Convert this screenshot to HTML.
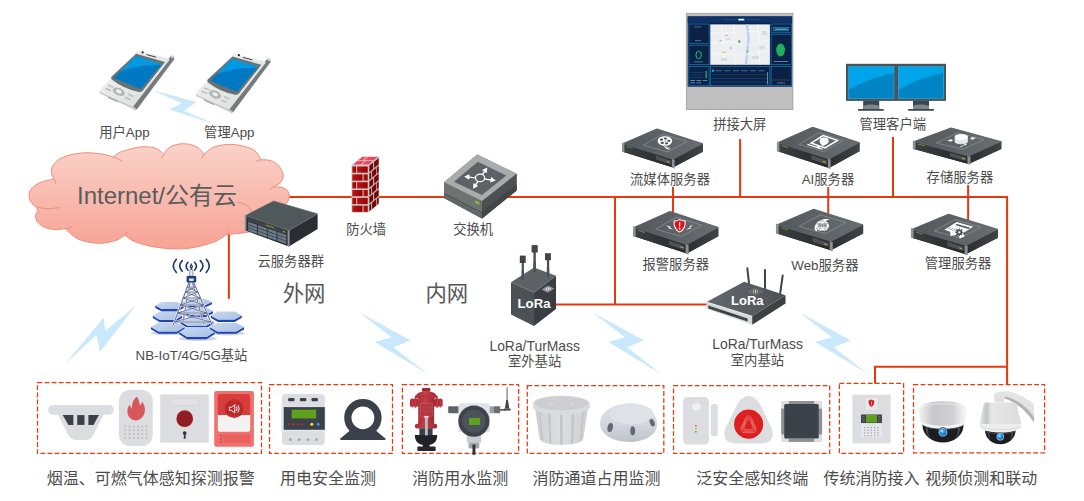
<!DOCTYPE html>
<html lang="zh-CN">
<head>
<meta charset="utf-8">
<title>智慧消防物联网系统架构图</title>
<style>
html,body{margin:0;padding:0;background:#fff;}
body{width:1084px;height:501px;overflow:hidden;font-family:"Liberation Sans",sans-serif;}
svg{display:block;position:absolute;left:0;top:0;}
#stage{position:relative;width:1084px;height:501px;overflow:hidden;background:#fff;}
#textlayer span{position:absolute;display:block;white-space:nowrap;text-align:center;color:transparent;line-height:1;overflow:hidden;}
#textlayer span.b{font-weight:bold;}
svg text{font-family:"Liberation Sans","Noto Sans CJK SC",sans-serif;}
</style>
</head>
<body>
<div id="stage">
<svg width="1084" height="501" viewBox="0 0 1084 501" role="img" aria-label="智慧消防物联网系统架构图">
<defs>
<linearGradient id="cloudg" x1="0" y1="0" x2="0" y2="1"><stop offset="0" stop-color="#fad2c9"/><stop offset="1" stop-color="#f7a394"/></linearGradient>
<linearGradient id="srvT" x1="0" y1="0" x2="1" y2="0"><stop offset="0" stop-color="#53585c"/><stop offset="1" stop-color="#686d71"/></linearGradient>
<linearGradient id="srvL" x1="0" y1="0" x2="1" y2="0"><stop offset="0" stop-color="#3b4043"/><stop offset="1" stop-color="#25282a"/></linearGradient>
<linearGradient id="srvR" x1="0" y1="0" x2="1" y2="0"><stop offset="0" stop-color="#2b2e30"/><stop offset="1" stop-color="#3f4447"/></linearGradient>
<g id="srv">
<polygon points="0,14.7 34.1,0 80,14.7 80,22.9 50.1,38.8 0,22.9" fill="#3a3e41"/>
<polygon points="0,14.7 50.1,30.6 50.1,38.8 0,22.9" fill="url(#srvL)"/>
<polygon points="50.1,30.6 80,14.7 80,22.9 50.1,38.8" fill="url(#srvR)"/>
<polygon points="0,14.7 34.1,0 80,14.7 50.1,30.6" fill="url(#srvT)"/>
<polygon points="0,14.7 34.1,0 80,14.7 50.1,30.6" fill="none" stroke="#6a6f73" stroke-width=".5" stroke-linejoin="round"/>
<polygon points="20.6,16.4 40.1,5.4 64.1,12.7 45.1,23.1" fill="none" stroke="#90959a" stroke-width=".65" stroke-linejoin="round"/>
<polygon points="-0.9,13.6 1.6,14.6 1.6,23.8 -0.9,22.8" fill="#8b9196"/>
<polygon points="49,30.2 51.8,30.9 51.8,39.8 49,39" fill="#8b9196"/>
<polygon points="33,26.8 48,31.6 48,35.6 33,30.8" fill="#4c5254"/>
<polygon points="4,17.2 10,19.1 10,19.8 4,17.9" fill="#8fa02c"/>
<polygon points="44,32.2 46.6,33 46.6,34.1 44,33.3" fill="#d8a51e"/>
</g>
<linearGradient id="phB" x1="0" y1="0" x2="1" y2="1"><stop offset="0" stop-color="#f4f5f5"/><stop offset="1" stop-color="#d9dbdb"/></linearGradient>
<g id="phone">
<!-- side / thickness -->
<path d="M168.9 58.4 L171.4 55.4 L174.3 57.3 L174.1 59.4 L137 109.2 Q135.8 110 134.2 109.4 L132.2 106.4Z" fill="#757b7c"/>
<path d="M99.5 91.3 L99.7 93.2 L134.2 109.4 Q135.8 110 137 109.2 L133 106.2Z" fill="#c4c7c7"/>
<!-- antenna nub -->
<path d="M170.2 56.8l1.5-1.8 2.6 1.6-1.2 2.2z" fill="#cfd1d1"/>
<!-- top face -->
<path d="M138.6 50.7 L168.6 58.6 Q169.8 59.2 169 60.4 L133.8 105.8 Q132.8 106.8 131.4 106.2 L100.2 92 Q99 91.2 99.9 90 L136.6 51.2 Q137.4 50.4 138.6 50.7Z" fill="url(#phB)"/>
<!-- dark bezel -->
<path d="M136.3 53.7 L165 62 L142.4 91 Q140.8 92.4 138 91.8 Q123 88.6 111.8 79.6 Q110.2 78 111.6 76.4Z" fill="#6b7172"/>
<!-- screen -->
<path d="M135.6 55.9 L161.9 63.9 L140.5 89 L114 77.9Z" fill="#0099e2"/>
<path d="M120.2 71.4 C134 66.2 148 64 160.8 65.2 L140.5 89 L114 77.9Z" fill="#0079c2"/>
<!-- camera + earpiece -->
<circle cx="142.6" cy="52.4" r="1.1" fill="#222"/>
<path d="M146.6 54.6l9.6 2.6" stroke="#3d4243" stroke-width="1" fill="none"/>
<!-- keypad -->
<ellipse cx="118.8" cy="91.7" rx="6.4" ry="3.7" transform="rotate(24 118.8 91.7)" fill="#b3b6b6"/>
<ellipse cx="118.8" cy="91.5" rx="2.9" ry="1.8" transform="rotate(24 118.8 91.5)" fill="#eeefef"/>
<g stroke="#bfc2c2" stroke-width="1.7" stroke-linecap="round" fill="none">
<path d="M108.6 85.4l4 1.6"/><path d="M106 88.6l4.2 1.8"/><path d="M128.4 94.2l4.2 1.8"/><path d="M125.6 97.6l4.2 1.8"/>
</g>
<path d="M108 97.4l9.6 4.4" stroke="#8e9393" stroke-width="1" fill="none"/>
</g><linearGradient id="fwF" x1="0" y1="0" x2="1" y2="0"><stop offset="0" stop-color="#c21414"/><stop offset="1" stop-color="#960000"/></linearGradient><linearGradient id="liT" x1="0" y1="0" x2="1" y2="0"><stop offset="0" stop-color="#63686c"/><stop offset="1" stop-color="#4d5256"/></linearGradient><linearGradient id="hexg" x1="0" y1="0" x2="1" y2="1"><stop offset="0" stop-color="#c9d8ef"/><stop offset="1" stop-color="#a9c0e4"/></linearGradient><pattern id="mesh" x="217.8" y="415.1" width="1.75" height="1.75" patternUnits="userSpaceOnUse"><rect x=".5" y=".5" width=".85" height=".85" fill="#c6c6cb"/></pattern><linearGradient id="hyd" x1="0" y1="0" x2="1" y2="0"><stop offset="0" stop-color="#a92d37"/><stop offset=".45" stop-color="#c53f49"/><stop offset="1" stop-color="#9c2832"/></linearGradient><linearGradient id="bkt" x1="0" y1="0" x2="1" y2="0"><stop offset="0" stop-color="#cfd0d4"/><stop offset=".5" stop-color="#dddee1"/><stop offset="1" stop-color="#cfd0d4"/></linearGradient><linearGradient id="dome" x1="0" y1="0" x2="0" y2="1"><stop offset="0" stop-color="#dfe2e8"/><stop offset=".55" stop-color="#d3d6dc"/><stop offset="1" stop-color="#bfc3ca"/></linearGradient><linearGradient id="camH" x1="0" y1="0" x2="1" y2="0"><stop offset="0" stop-color="#f4f4f4"/><stop offset=".12" stop-color="#e2e3e5"/><stop offset=".3" stop-color="#c6c8cc"/><stop offset=".7" stop-color="#cfd1d4"/><stop offset=".88" stop-color="#ececec"/><stop offset="1" stop-color="#fafafa"/></linearGradient><linearGradient id="camP" x1="0" y1="0" x2="1" y2="0"><stop offset="0" stop-color="#e9e9e9"/><stop offset=".18" stop-color="#c2c4c8"/><stop offset=".28" stop-color="#e6e6e7"/><stop offset="1" stop-color="#dcdcdd"/></linearGradient><radialGradient id="lens" cx=".4" cy=".35" r=".7"><stop offset="0" stop-color="#6cc4f6"/><stop offset=".6" stop-color="#1488dc"/><stop offset="1" stop-color="#0b5fa8"/></radialGradient>
</defs>
<g id="bolts" fill="#c9e8fb"><polygon points="135.9,305.5 105.2,330.9 103.7,317.5 64.7,364.2 96.6,334.7 99.9,351.9"/><polygon points="152.6,89.9 196.5,102 183.9,110.7 215.7,124.5 169.6,109.4 181.7,103.3"/><polygon points="359.0,312.2 410.6,340.5 393.4,347.2 428.6,374.6 374.7,342.1 391.6,337.2"/><polygon points="592.4,312.2 644.0,340.5 626.8,347.2 662.0,374.6 608.1,342.1 625.0,337.2"/><polygon points="799.2,312.2 850.8,340.5 833.6,347.2 868.8,374.6 814.9,342.1 831.8,337.2"/></g>
<g id="links" fill="none" stroke="#e8380d" stroke-width="2"><path d="M270 197H1007.1V384.6"/><path d="M228.9 234V298.8"/><path d="M615 197V304.5"/><path d="M556 304.5H707"/><path d="M740.1 139.1V197"/><path d="M673 187V214"/><path d="M828.2 187.2V215"/><path d="M893 137V197"/><path d="M968.1 185V221"/><path d="M1007.1 366.8H875V383.4"/></g>
<g id="cloud" stroke="#ee8c78" stroke-width="1" stroke-linejoin="round" stroke-linecap="round"><path d="M53.7 179.0C53.3 177.5 50.7 173.1 51.3 170.0C51.9 166.9 54.4 163.0 57.5 160.5C60.6 158.0 65.2 156.3 70.0 155.0C74.8 153.7 80.5 152.9 86.0 152.8C91.5 152.7 98.4 153.5 103.0 154.2C107.6 154.9 111.7 156.7 113.4 157.2C114.2 156.5 115.9 154.3 118.0 153.2C120.1 152.0 122.3 151.3 126.0 150.3C129.7 149.3 135.7 147.5 140.0 147.0C144.3 146.5 148.8 146.8 152.0 147.3C155.2 147.8 157.1 148.8 159.0 150.0C160.9 151.2 162.9 153.8 163.7 154.5C164.8 153.2 166.9 148.8 170.0 147.0C173.1 145.2 178.2 143.8 182.5 143.7C186.8 143.6 192.4 144.8 196.0 146.5C199.6 148.2 202.9 152.8 204.3 154.1C205.9 152.9 209.6 148.6 214.0 147.0C218.4 145.4 225.2 144.4 230.7 144.4C236.2 144.4 242.8 146.0 247.0 147.2C251.2 148.4 253.7 149.7 256.0 151.8C258.3 153.9 260.2 158.5 261.0 159.8C262.5 159.9 267.1 159.6 270.0 160.5C272.9 161.4 276.4 163.1 278.6 165.5C280.8 167.9 282.8 171.9 283.1 174.7C283.4 177.5 282.3 180.4 280.6 182.5C278.9 184.6 274.3 186.2 273.0 187.0C274.5 187.1 279.5 186.6 282.0 187.3C284.5 188.1 286.8 189.6 288.0 191.5C289.2 193.4 289.5 196.2 289.0 198.5C288.5 200.8 287.0 203.2 285.0 205.0C283.0 206.8 278.3 208.3 277.0 209.0C277.7 210.3 281.8 214.0 281.0 217.0C280.2 220.0 276.3 224.7 272.0 227.0C267.7 229.3 260.3 230.0 255.0 231.0C249.7 232.0 244.7 232.6 240.0 233.2C235.3 233.8 228.9 234.3 226.7 234.5C224.8 235.7 220.3 239.4 215.0 241.5C209.7 243.6 201.7 246.1 195.0 247.3C188.3 248.5 182.2 249.0 175.0 248.9C167.8 248.8 158.8 247.8 152.0 246.5C145.2 245.2 138.5 243.1 134.0 241.2C129.5 239.3 126.3 236.2 124.8 235.2C123.3 236.0 120.0 239.0 116.0 240.3C112.0 241.7 105.7 243.1 100.7 243.3C95.7 243.5 90.3 242.6 86.0 241.6C81.7 240.6 78.5 239.4 75.0 237.2C71.5 235.0 66.8 230.0 65.2 228.6C63.5 228.8 58.3 229.9 54.8 229.6C51.3 229.3 46.9 228.3 44.0 227.0C41.1 225.7 38.6 223.4 37.2 221.5C35.8 219.6 35.6 217.5 35.6 215.7C35.6 213.9 37.5 212.0 37.5 210.5C37.5 209.0 35.9 207.2 35.6 206.6C34.8 205.8 31.8 203.9 30.7 202.0C29.6 200.1 29.0 197.2 29.1 195.0C29.2 192.8 29.4 191.1 31.2 189.0C33.0 186.9 36.2 184.3 40.0 182.6C43.8 180.9 51.4 179.6 53.7 179.0Z" fill="url(#cloudg)"/><path d="M35.6 206.6C37.3 206.9 42.0 208.4 46.0 208.6C50.0 208.8 57.2 207.8 59.4 207.6M65.2 228.6C65.8 228.5 67.8 228.5 69.0 228.2C70.2 227.9 71.7 226.9 72.2 226.6M113.4 157.2C114.1 157.4 116.2 157.9 117.6 158.6C119.0 159.3 120.9 160.8 121.6 161.2M53.7 179.0C54.0 179.3 54.9 180.3 55.2 181.0C55.6 181.7 55.7 183.0 55.8 183.4M124.8 235.2C125.1 235.0 126.0 234.3 126.4 233.8C126.8 233.3 127.1 232.3 127.2 232.0M163.7 154.5C163.5 154.8 162.9 155.4 162.6 156.0C162.2 156.6 161.8 157.7 161.6 158.0M204.3 154.1C204.1 154.4 203.4 155.2 203.0 155.8C202.6 156.5 202.0 157.6 201.8 158.0M261.0 159.8C260.6 159.9 259.2 160.1 258.4 160.4C257.6 160.7 256.4 161.4 256.0 161.6M273.0 187.0C272.7 187.2 271.6 187.7 271.0 188.2C270.4 188.7 269.7 189.7 269.4 190.0M226.7 234.5C226.9 234.2 227.7 233.4 228.0 232.8C228.3 232.2 228.5 231.3 228.6 231.0M238.4 202.6C239.1 202.7 240.9 202.9 242.4 203.4C243.9 203.9 245.9 204.6 247.4 205.8C248.9 207.0 250.4 208.8 251.2 210.6C252.0 212.4 252.3 214.3 252.0 216.6C251.7 218.9 250.5 222.3 249.3 224.6C248.1 226.9 246.3 228.8 244.8 230.2C243.3 231.6 241.1 232.5 240.4 233.0" fill="none"/></g>
<g id="boxes" fill="none" stroke="#e8380d" stroke-width="1.25" stroke-dasharray="4.8 2.3"><rect x="37.5" y="382.5" width="224.0" height="70.89999999999998"/><rect x="269.5" y="384.5" width="123.0" height="68.89999999999998"/><rect x="402.4" y="384.6" width="116.20000000000005" height="68.79999999999995"/><rect x="527.3" y="385.6" width="136.5" height="67.79999999999995"/><rect x="673.5" y="385.6" width="156.20000000000005" height="67.79999999999995"/><rect x="839.4" y="383.4" width="64.20000000000005" height="70.0"/><rect x="913.5" y="384.6" width="131.0999999999999" height="68.19999999999999"/></g>
<g id="servers"><g transform="translate(622.8 128.8) scale(1.0 1.0)"><use href="#srv"/><g transform="translate(42.1 12.2)"><ellipse cx="0" cy="0" rx="7.3" ry="4.8" fill="#fff"/><g fill="#50555a"><ellipse cx="-3.4" cy="-1.3" rx="1.7" ry="1.1"/><ellipse cx="0.6" cy="-2.4" rx="1.7" ry="1.1"/><ellipse cx="3.9" cy="-0.2" rx="1.7" ry="1.1"/><ellipse cx="1.7" cy="2.3" rx="1.7" ry="1.1"/><ellipse cx="-2.6" cy="1.9" rx="1.7" ry="1.1"/><ellipse cx="0.2" cy="0" rx=".7" ry=".5"/></g><path d="M-1.2 4.4 C0 6 1.4 7.2 3.6 7.9" fill="none" stroke="#fff" stroke-width="1"/><ellipse cx="1.5" cy="6.5" rx="1.2" ry=".8" fill="none" stroke="#fff" stroke-width=".6"/><ellipse cx="3.8" cy="7.6" rx="1.2" ry=".8" fill="none" stroke="#fff" stroke-width=".6"/></g></g><g transform="translate(777.8 127.1) scale(1.021 1.052)"><use href="#srv"/><g fill="none" stroke="#fff" stroke-linejoin="miter"><polygon points="32.6,15.2 44.3,8 58.4,12.6 46.2,19.8" stroke-width="1.5"/><path d="M29 16.4L43.8 21.1" stroke-width="1.1"/><path d="M38.6 17.6l-.8 1.9 3.2 1 .6-1.9z" fill="#fff" stroke="none"/></g><ellipse cx="45.4" cy="13.3" rx="4.5" ry="3.3" fill="#fff"/><path d="M41.2 14.6l2.6 3.4 4-1.2z" fill="#fff"/></g><g transform="translate(913.8 127.8) scale(1.094 0.93)"><use href="#srv"/><g transform="translate(43.4 11.7)"><path d="M-6 -2.2v5.4a6 2.9 0 0 0 12 0v-5.4z" fill="#fff"/><ellipse cx="0" cy="-2.2" rx="6" ry="2.9" fill="#fff"/><g fill="none" stroke="#b9bcbf" stroke-width=".5"><path d="M-6 -0.6a6 2.9 0 0 0 12 0"/><path d="M-6 1a6 2.9 0 0 0 12 0"/><path d="M-6 2.4a6 2.9 0 0 0 12 0"/></g><g fill="#fff"><path d="M-13.5 2.6l4.4-2.3 .4 1.2 1.6-.4-2 2-2.6-.3 1-.7z"/><path d="M12.8 -1.2l-4.2 2.5-.5-1.2-1.6.6 1.8-2.2 2.7.1-1 .8z" transform="translate(1.2 0)"/><path d="M-1.2 8.8l4.3-2.3-.9-.9 2.9-.2-.8 2-1-.5-3.7 2.4z"/></g></g></g><g transform="translate(634.0 211.3) scale(1.054 1.09)"><use href="#srv"/><g transform="translate(43.3 13.9) scale(1 .92)"><path d="M0 -6.8 C1.6 -5.8 3.6 -5.4 5.3 -5.5 C5.6 -0.5 3.6 3.6 0 5.6 C-3.6 3.6 -5.6 -0.5 -5.3 -5.5 C-3.6 -5.4 -1.6 -5.8 0 -6.8Z" fill="#e2101c" stroke="#fff" stroke-width="1" stroke-linejoin="round"/><path d="M-.7 -4.2h1.4l-.3 5h-.8z" fill="#fff"/><circle cx="0" cy="2.2" r=".85" fill="#fff"/><g fill="#fff"><path d="M-13 -1.2l4.5 1.6-.6.8 3.6 2.1-5-1.2.7-.9z"/><path d="M12.3 -2.2l-3.2 2.6 1 .3-4.4 2.8 5.4-1.7-1-.5z"/></g></g></g><g transform="translate(776.9 209.1) scale(1.078 1.062)"><use href="#srv"/><g transform="translate(42.2 15.7)"><ellipse cx="0" cy="0" rx="6.2" ry="4.9" fill="#fff"/><path d="M6.5 -5.8 C3 -7.5 -5 -5 -7 .5 C-8 3.5 -6.5 5.2 -4.5 5.4 C-6.5 3 -4 -2.5 6.5 -5.8Z" fill="#fff"/><g fill="none" stroke="#5a5f63" stroke-width=".45"><ellipse cx="0" cy="0" rx="3" ry="4.6"/><path d="M-6 -1.9h12M-6 2h12"/></g><rect x="-4.8" y="-1.5" width="9.6" height="3.1" fill="#fff"/><text x="0" y="1.42" font-size="3.6" font-weight="bold" text-anchor="middle" fill="#54595d">WEB</text></g></g><g transform="translate(911.9 214.0) scale(1.076 1.036)"><use href="#srv"/><g transform="translate(43.6 15.2) scale(1.1) translate(-42.4 -15.2)"><polygon points="30.2,15.2 40.6,8.4 54.6,12.6 45.8,18.3 47.5,21 43.2,22.8 41.6,19.4 35.5,20.6 35,17" fill="#fff"/><polygon points="40.8,10.1 52.2,13.4 50.6,14.5 39.2,11.1" fill="#50555a"/><g stroke="#50555a" stroke-width=".55"><path d="M33 14.8l2.4-1.6M35 15.4l2.4-1.6M37 16l2.4-1.6M39 16.6l2.4-1.6"/></g><circle cx="42.8" cy="17.4" r="2.5" fill="#50555a"/><circle cx="42.8" cy="17.4" r="1.2" fill="#fff"/><g stroke="#50555a" stroke-width="1.1"><path d="M42.8 14v6.8M39.4 17.4h6.8M40.4 15l4.8 4.8M45.2 15l-4.8 4.8"/></g><circle cx="42.8" cy="17.4" r="1.9" fill="#50555a"/><circle cx="42.8" cy="17.4" r=".95" fill="#fff"/></g></g></g>
<g id="phones"><use href="#phone"/><use href="#phone" transform="translate(96.3 2.8)"/></g>
<g id="bigscreen"><rect x="686.3" y="13.3" width="106.6" height="96.3" fill="#bfbfbf" stroke="#9c9c9c" stroke-width=".8"/><rect x="687.7" y="16.4" width="104.4" height="70.3" fill="#0a2448"/><rect x="687.7" y="16.4" width="104.4" height="6.2" fill="#0f3268"/><rect x="738.2" y="18.8" width="6.2" height="1.7" rx=".6" fill="#e8f0fa"/><path d="M722 19.6h14M746.5 19.6h14" stroke="#2a5fa8" stroke-width=".5"/><rect x="688.9" y="24" width="20.2" height="19.4" fill="#0a2246" stroke="#1f86c0" stroke-width=".6"/><rect x="688.9" y="45.2" width="20.2" height="19.5" fill="#0a2246" stroke="#1f86c0" stroke-width=".6"/><rect x="688.9" y="66.3" width="20.2" height="19.4" fill="#0a2246" stroke="#1f86c0" stroke-width=".6"/><rect x="710.3" y="66.3" width="59.6" height="19.4" fill="#0a2246" stroke="#1f86c0" stroke-width=".6"/><rect x="771.1" y="24" width="20.2" height="8.8" fill="#0a2246" stroke="#1f86c0" stroke-width=".6"/><rect x="771.1" y="34.2" width="20.2" height="30.5" fill="#0a2246" stroke="#1f86c0" stroke-width=".6"/><rect x="771.1" y="66.3" width="20.2" height="19.4" fill="#0a2246" stroke="#1f86c0" stroke-width=".6"/><rect x="710.3" y="24.4" width="59.6" height="40.4" fill="#eceef0"/><path d="M745.8 24.4l2.4 0 1.6 14 -2.6 26.4 -2.4 0 2.6-26.4z" fill="#b5d3f2"/><g stroke="#fafbfc" stroke-width=".65" fill="none"><path d="M710.3 43l20 -1 15 3 24 -5"/><path d="M722 24.4l3 40.4"/><path d="M734 24.4l1 40.4"/><path d="M710.3 53l30 2 29-4"/><path d="M758 24.4l2 40.4"/><path d="M710.3 33l59.6-2"/></g><g fill="#d3dbe6"><rect x="762" y="31" width="5" height="4"/><rect x="759" y="46" width="6" height="3"/><rect x="721" y="58" width="6" height="3"/><rect x="752" y="56" width="7" height="3"/><rect x="726" y="38" width="4" height="2"/></g><g fill="#e8a0a8"><rect x="725" y="35" width="3" height="1"/><rect x="719.5" y="40.3" width="2.5" height="1" fill="#b59ad8"/><rect x="729.5" y="47.5" width="2.5" height="1" fill="#b59ad8"/><rect x="722" y="51.8" width="4" height="1" fill="#f0b27a"/></g><ellipse cx="739.3" cy="41.5" rx="1" ry="1.6" fill="#2fb344"/><circle cx="747.3" cy="51.5" r="1.2" fill="#7fcf8a"/><ellipse cx="698.6" cy="55" rx="2.7" ry="3.7" fill="none" stroke="#2fcf77" stroke-width=".9"/><ellipse cx="780.6" cy="50" rx="4.4" ry="6.4" fill="#1fae5c"/><rect x="773.6" y="27.5" width="15.2" height="3.4" fill="#0c3a6e" stroke="#33b7e6" stroke-width=".5"/><path d="M775 29.2h12.4" stroke="#7fe0ff" stroke-width=".9"/><rect x="705.6" y="71" width="1.1" height="7" fill="#2ecc71"/><g stroke="#2c5f98" stroke-width=".4"><path d="M690.5 72.5h13M690.5 75h13M690.5 77.5h13"/><path d="M712 74.6h56M712 78.4h56M712 82h56"/><path d="M772.5 80h17.5" stroke="#b88a3a" stroke-width=".7" stroke-dasharray="1 1.4"/></g><rect x="712" y="69.6" width="2.2" height="2.2" fill="#2b8fe0"/><path d="M716 70.7h50" stroke="#6e93c4" stroke-width=".6" stroke-dasharray="6 2.5"/><g fill="#6f94c4"><rect x="690.5" y="80" width="4.6" height=".9"/><rect x="696.5" y="80" width="4.6" height=".9"/><rect x="702.5" y="80" width="4.6" height=".9"/><rect x="690.5" y="82.4" width="4.6" height=".9"/><rect x="696.5" y="82.4" width="4.6" height=".9"/><rect x="695" y="40.4" width="6" height=".7"/><rect x="694" y="61.6" width="9" height=".7"/><rect x="774" y="61" width="14" height=".8"/><rect x="777" y="82.6" width="8" height=".7"/><rect x="694" y="26.6" width="7" height=".6"/></g><path d="M767.6 72v12.5" stroke="#c9d6e8" stroke-width=".6"/></g>
<g id="monitors"><rect x="863.2" y="100.5" width="16" height="8.6" fill="#3b464c"/><path d="M863.2 109.1v-3.4q8-2.6 16 0v3.4z" fill="#7b878c"/><rect x="858" y="108.9" width="25.8" height="1.9" rx=".6" fill="#3b464c"/><rect x="913" y="100.5" width="16" height="8.6" fill="#3b464c"/><path d="M913 109.1v-3.4q8-2.6 16 0v3.4z" fill="#7b878c"/><rect x="908.1" y="108.9" width="25.8" height="1.9" rx=".6" fill="#3b464c"/><rect x="846" y="63.8" width="100" height="37.1" fill="#48545b"/><rect x="848.7" y="66.7" width="45.3" height="31.6" fill="#00a4ea"/><path d="M848.7 89.9 C862.7 82 878.7 75.6 894.0 73.2 V98.3 H848.7Z" fill="#0084c3"/><rect x="848.7" y="66.7" width="45.3" height="31.6" fill="none" stroke="#35b8f2" stroke-width=".5"/><rect x="898.3" y="66.7" width="45.3" height="31.6" fill="#00a4ea"/><path d="M898.3 89.9 C912.3 82 928.3 75.6 943.5999999999999 73.2 V98.3 H898.3Z" fill="#0084c3"/><rect x="898.3" y="66.7" width="45.3" height="31.6" fill="none" stroke="#35b8f2" stroke-width=".5"/></g>
<g id="cloudsrv"><polygon points="245.5,215.5 288.9,230.5 288.9,246.6 245.5,230.6" fill="#2b2f34"/><polygon points="288.9,230.5 317.6,213.8 317.6,229.1 288.9,246.6" fill="#2a2d34"/><polygon points="245.5,215.5 273.6,200.9 317.6,213.8 288.9,230.5" fill="#4f595c"/><polygon points="245.5,215.5 273.6,200.9 317.6,213.8 288.9,230.5" fill="none" stroke="#667073" stroke-width=".5"/><polygon points="247.7,217.0 286.7,230.5 286.7,234.4 247.7,220.9" fill="#3c4247"/><polygon points="265.9,224.4 274.1,227.3 274.1,228.5 265.9,225.7" fill="#7f962a"/><polygon points="282.8,230.9 284.6,231.5 284.6,232.7 282.8,232.1" fill="#d9a520"/><polygon points="248.1,221.7 257.0,224.8 257.0,227.4 248.1,224.4" fill="#6a7783"/><circle cx="255.0" cy="225.4" r=".6" fill="#5c9bd0"/><polygon points="257.9,225.1 266.8,228.2 266.8,230.8 257.9,227.7" fill="#6a7783"/><circle cx="264.8" cy="228.8" r=".6" fill="#5c9bd0"/><polygon points="267.6,228.5 276.5,231.5 276.5,234.2 267.6,231.1" fill="#6a7783"/><circle cx="274.6" cy="232.2" r=".6" fill="#5c9bd0"/><polygon points="277.4,231.8 286.3,234.9 286.3,237.6 277.4,234.5" fill="#6a7783"/><circle cx="284.3" cy="235.6" r=".6" fill="#5c9bd0"/><polygon points="248.1,224.9 257.0,228.0 257.0,230.6 248.1,227.6" fill="#6a7783"/><circle cx="255.0" cy="228.6" r=".6" fill="#5c9bd0"/><polygon points="257.9,228.3 266.8,231.4 266.8,234.0 257.9,230.9" fill="#6a7783"/><circle cx="264.8" cy="232.0" r=".6" fill="#5c9bd0"/><polygon points="267.6,231.7 276.5,234.7 276.5,237.4 267.6,234.3" fill="#6a7783"/><circle cx="274.6" cy="235.4" r=".6" fill="#5c9bd0"/><polygon points="277.4,235.0 286.3,238.1 286.3,240.8 277.4,237.7" fill="#6a7783"/><circle cx="284.3" cy="238.8" r=".6" fill="#5c9bd0"/><polygon points="248.1,228.1 257.0,231.2 257.0,233.8 248.1,230.8" fill="#6a7783"/><circle cx="255.0" cy="231.8" r=".6" fill="#5c9bd0"/><polygon points="257.9,231.5 266.8,234.5 266.8,237.2 257.9,234.1" fill="#6a7783"/><circle cx="264.8" cy="235.2" r=".6" fill="#5c9bd0"/><polygon points="267.6,234.8 276.5,237.9 276.5,240.6 267.6,237.5" fill="#6a7783"/><circle cx="274.6" cy="238.6" r=".6" fill="#5c9bd0"/><polygon points="277.4,238.2 286.3,241.3 286.3,244.0 277.4,240.9" fill="#6a7783"/><circle cx="284.3" cy="242.0" r=".6" fill="#5c9bd0"/><polygon points="244.8,215 246.4,215.6 246.4,231 244.8,230.4" fill="#8d9398"/><polygon points="287.6,230 289.6,230.6 289.6,246.8 287.6,246.2" fill="#8d9398"/></g>
<g id="firewall"><polygon points="351.5,165.1 362.3,156.3 379.1,156.3 368.6,165.1" fill="#d0d0d0"/><rect x="351.5" y="165.1" width="17.1" height="47.5" fill="#c6c6c6"/><polygon points="368.6,165.1 379.1,156.3 379.1,203.8 368.6,212.6" fill="#b5b5b5"/><rect x="352.3" y="166.5" width="3.8" height="6.2" fill="url(#fwF)"/><rect x="357.1" y="166.5" width="10.6" height="6.2" fill="url(#fwF)"/><rect x="352.3" y="174.4" width="10.2" height="6.2" fill="url(#fwF)"/><rect x="363.5" y="174.4" width="4.2" height="6.2" fill="url(#fwF)"/><rect x="352.3" y="182.2" width="3.8" height="6.2" fill="url(#fwF)"/><rect x="357.1" y="182.2" width="10.6" height="6.2" fill="url(#fwF)"/><rect x="352.3" y="190" width="10.2" height="6.2" fill="url(#fwF)"/><rect x="363.5" y="190" width="4.2" height="6.2" fill="url(#fwF)"/><rect x="352.3" y="197.9" width="3.8" height="6.2" fill="url(#fwF)"/><rect x="357.1" y="197.9" width="10.6" height="6.2" fill="url(#fwF)"/><rect x="352.3" y="205.7" width="10.2" height="6.2" fill="url(#fwF)"/><rect x="363.5" y="205.7" width="4.2" height="6.2" fill="url(#fwF)"/><polygon points="369.4,165.8 373.0,162.8 373.0,169.0 369.4,172.0" fill="#7e0000"/><polygon points="374.1,161.9 378.6,158.2 378.6,164.3 374.1,168.1" fill="#7e0000"/><polygon points="369.4,173.6 371.1,172.2 371.1,178.4 369.4,179.8" fill="#7e0000"/><polygon points="372.1,171.4 376.2,168.0 376.2,174.2 372.1,177.6" fill="#7e0000"/><polygon points="377.0,167.3 378.6,166.0 378.6,172.2 377.0,173.5" fill="#7e0000"/><polygon points="369.4,181.4 373.0,178.5 373.0,184.6 369.4,187.6" fill="#7e0000"/><polygon points="374.1,177.6 378.6,173.8 378.6,180.0 374.1,183.8" fill="#7e0000"/><polygon points="369.4,189.3 371.1,187.9 371.1,194.0 369.4,195.4" fill="#7e0000"/><polygon points="372.1,187.1 376.2,183.6 376.2,189.8 372.1,193.2" fill="#7e0000"/><polygon points="377.0,182.9 378.6,181.6 378.6,187.8 377.0,189.1" fill="#7e0000"/><polygon points="369.4,197.1 373.0,194.1 373.0,200.3 369.4,203.3" fill="#7e0000"/><polygon points="374.1,193.2 378.6,189.4 378.6,195.6 374.1,199.4" fill="#7e0000"/><polygon points="369.4,204.9 371.1,203.5 371.1,209.7 369.4,211.1" fill="#7e0000"/><polygon points="372.1,202.7 376.2,199.3 376.2,205.4 372.1,208.9" fill="#7e0000"/><polygon points="377.0,198.6 378.6,197.2 378.6,203.4 377.0,204.7" fill="#7e0000"/><polygon points="353.2,164.4 360.6,164.4 364.6,161.1 357.2,161.1" fill="#f2475a"/><polygon points="361.8,164.4 368.6,164.4 372.6,161.1 365.8,161.1" fill="#f2475a"/><polygon points="358.3,160.3 362.6,160.3 366.6,157.0 362.3,157.0" fill="#f2475a"/><polygon points="363.9,160.3 373.7,160.3 377.7,157.0 367.9,157.0" fill="#f2475a"/></g>
<g id="switch"><polygon points="444.1,182.2 477.2,154.4 516.6,173.8 516.6,190.5 482,218.6 444.1,198.1" fill="#5a5f61"/><polygon points="444.1,182.2 482,201.1 482,218.6 444.1,198.1" fill="#6d7373"/><polygon points="482,201.1 516.6,173.8 516.6,190.5 482,218.6" fill="#4b5052"/><polygon points="444.1,193.4 482,212.6 482,218.6 444.1,198.1" fill="#626868"/><polygon points="482,212.6 516.6,185 516.6,190.5 482,218.6" fill="#414648"/><path d="M444.1 193.4L482 212.6 516.6 185" fill="none" stroke="#393d3f" stroke-width=".6"/><polygon points="444.1,182.2 477.2,154.4 516.6,173.8 482,201.1" fill="#aaacac"/><polygon points="453.9,181.7 477.8,161.7 506.3,175.6 482,195.1" fill="#5c6267"/><polygon points="475.2,200.4 479.3,202.4 479.3,204.6 475.2,202.6" fill="#8fd31f"/><g fill="none" stroke="#fff" stroke-width="1.45"><path d="M485.4 170.2L474.9 185.9M467 176.9L493 180.1"/></g><ellipse cx="480.1" cy="177.9" rx="4.6" ry="3.8" fill="#5c6267" stroke="#fff" stroke-width="1.3"/><g fill="#fff"><polygon points="487.3,167.4 486.7,173.3 482,170.1"/><polygon points="473,188.8 478.2,186 473.5,182.9"/><polygon points="464.1,176.6 469.5,174.2 469.1,179.8"/><polygon points="495.8,180.5 490.2,182.4 491.1,176.9"/></g></g>
<g id="lora-out"><rect x="521.7" y="262.5" width="2.2" height="17.5" fill="#4b5054"/><rect x="519.8" y="255.6" width="5.9" height="7.4" fill="#3f4448"/><rect x="533.4" y="252.0" width="2.4" height="20.0" fill="#4b5054"/><rect x="531.6" y="245.1" width="6.1" height="7.4" fill="#3f4448"/><rect x="546.9" y="259.7" width="2.3" height="17.8" fill="#4b5054"/><rect x="545" y="253.2" width="5.9" height="7.0" fill="#3f4448"/><polygon points="511,282.3 534,292.4 534,326 511,314.4" fill="#4c5155"/><polygon points="534,292.4 556,275.8 556,308.9 534,326" fill="#3a3e42"/><polygon points="511,282.3 534,267.6 556,275.8 534,292.4" fill="#5d6266"/><rect x="521.7" y="270" width="2.2" height="10.0" fill="#4b5054"/><rect x="533.4" y="262" width="2.4" height="10.0" fill="#4b5054"/><rect x="546.9" y="268" width="2.3" height="9.5" fill="#4b5054"/><polygon points="541.4,289.6 548,285.6 554.4,288.6 547.6,292.8" fill="#8a8f94"/><path d="M546.2 287.6v3M548.4 287.2v3.4M550.2 287.8v2" stroke="#fff" stroke-width=".8"/><text x="534" y="308.42" font-size="13.2" font-weight="bold" text-anchor="middle" fill="#fff">LoRa</text></g>
<g id="lora-in"><g stroke="#3e4347" stroke-width="2" stroke-linecap="round"><path d="M749.1 284.5L747.3 268.2"/><path d="M765.1 289.5L764.9 270"/><path d="M780.1 294L782.7 275.4"/></g><polygon points="706.5,302 752.2,316.3 752.2,324.7 706.5,308.8" fill="#d6d9da"/><polygon points="752.2,316.3 785.5,295.2 785.5,303.4 752.2,324.7" fill="#3b4043"/><polygon points="706.5,302 744.1,281.7 785.5,295.2 752.2,316.3" fill="url(#liT)"/><path d="M706.5 302L752.2 316.3" stroke="#eef0f0" stroke-width=".9"/><polygon points="708.4,305.6 747.6,318.4 747.6,321.4 708.4,308.4" fill="#3a4043"/><path d="M711 307.4l10 3.3M738 316.4l8 2.6" stroke="#5f8f2e" stroke-width=".9" stroke-dasharray="1.2 1.6"/><polygon points="748.4,291.6 755,288.8 762.4,291.4 755.6,294.6" fill="none" stroke="#8d9296" stroke-width=".6"/><path d="M753.6 290.4v2.4M755.4 289.8v3.6M757.2 290.4v2.4" stroke="#fff" stroke-width=".7"/><text x="747.3" y="305.04" font-size="13" font-weight="bold" text-anchor="middle" fill="#fff">LoRa</text></g>
<g id="tower"><g fill="#9aa0a8" opacity=".45"><ellipse cx="198" cy="338.6" rx="19" ry="2.4"/><ellipse cx="168" cy="333.2" rx="17" ry="2"/><ellipse cx="228" cy="333.4" rx="17" ry="2"/></g><polygon points="181.9,302.0 188.8,305.2 205.0,305.2 211.9,302.0 211.9,304.3 205.0,307.5 188.8,307.5 181.9,304.3" fill="#1e46b3"/><polygon points="181.9,302.0 188.8,298.8 205.0,298.8 211.9,302.0 205.0,305.2 188.8,305.2" fill="url(#hexg)"/><polygon points="155.3,305.6 161.8,309.1 177.2,309.1 183.7,305.6 183.7,307.9 177.2,311.4 161.8,311.4 155.3,307.9" fill="#1e46b3"/><polygon points="155.3,305.6 161.8,302.1 177.2,302.1 183.7,305.6 177.2,309.1 161.8,309.1" fill="url(#hexg)"/><polygon points="183.0,311.0 189.9,314.7 206.1,314.7 213.0,311.0 213.0,313.3 206.1,317.0 189.9,317.0 183.0,313.3" fill="#1e46b3"/><polygon points="183.0,311.0 189.9,307.3 206.1,307.3 213.0,311.0 206.1,314.7 189.9,314.7" fill="url(#hexg)"/><polygon points="152.8,315.7 159.5,319.7 175.5,319.7 182.2,315.7 182.2,318.0 175.5,322.0 159.5,322.0 152.8,318.0" fill="#1e46b3"/><polygon points="152.8,315.7 159.5,311.7 175.5,311.7 182.2,315.7 175.5,319.7 159.5,319.7" fill="url(#hexg)"/><polygon points="210.8,315.5 217.9,319.6 234.7,319.6 241.8,315.5 241.8,317.8 234.7,321.9 217.9,321.9 210.8,317.8" fill="#1e46b3"/><polygon points="210.8,315.5 217.9,311.4 234.7,311.4 241.8,315.5 234.7,319.6 217.9,319.6" fill="url(#hexg)"/><polygon points="180.5,321.5 188.1,325.9 205.9,325.9 213.5,321.5 213.5,323.8 205.9,328.2 188.1,328.2 180.5,323.8" fill="#1e46b3"/><polygon points="180.5,321.5 188.1,317.1 205.9,317.1 213.5,321.5 205.9,325.9 188.1,325.9" fill="url(#hexg)"/><polygon points="150.9,326.9 158.7,331.5 176.9,331.5 184.7,326.9 184.7,329.2 176.9,333.8 158.7,333.8 150.9,329.2" fill="#1e46b3"/><polygon points="150.9,326.9 158.7,322.3 176.9,322.3 184.7,326.9 176.9,331.5 158.7,331.5" fill="url(#hexg)"/><polygon points="209.6,327.1 217.5,331.5 236.1,331.5 244.0,327.1 244.0,329.4 236.1,333.8 217.5,333.8 209.6,329.4" fill="#1e46b3"/><polygon points="209.6,327.1 217.5,322.7 236.1,322.7 244.0,327.1 236.1,331.5 217.5,331.5" fill="url(#hexg)"/><polygon points="179.2,332.0 187.3,337.0 206.5,337.0 214.6,332.0 214.6,334.3 206.5,339.3 187.3,339.3 179.2,334.3" fill="#1e46b3"/><polygon points="179.2,332.0 187.3,327.0 206.5,327.0 214.6,332.0 206.5,337.0 187.3,337.0" fill="url(#hexg)"/><g fill="none" stroke-linecap="round"><path d="M188.7 283L173.2 325.2" stroke="#eef1f8" stroke-width="2.2"/><path d="M193.9 283L212.2 325.2" stroke="#eef1f8" stroke-width="2.2"/><path d="M190 283L183 322" stroke="#eef1f8" stroke-width="2.2"/><path d="M192.6 283L203.5 323.5" stroke="#eef1f8" stroke-width="2.2"/><path d="M188.7 283L173.2 325.2" stroke="#3f4b73" stroke-width=".85"/><path d="M193.9 283L212.2 325.2" stroke="#3f4b73" stroke-width=".85"/><path d="M190 283L183 322" stroke="#3f4b73" stroke-width=".85"/><path d="M192.6 283L203.5 323.5" stroke="#3f4b73" stroke-width=".85"/><path d="M187.2 287H195.6M187.2 287L197.8 292M195.6 287L185.4 292M185.4 292H197.8M185.4 292L200.4 298M197.8 292L183.2 298M183.2 298H200.4M183.2 298L203.4 305M200.4 298L180.6 305M180.6 305H203.4M180.6 305L206.9 313M203.4 305L177.7 313M177.7 313H206.9M177.7 313L210.8 322M206.9 313L174.4 322M174.4 322H210.8" stroke="#eef1f8" stroke-width="1.5"/><path d="M187.2 287H195.6M187.2 287L197.8 292M195.6 287L185.4 292M185.4 292H197.8M185.4 292L200.4 298M197.8 292L183.2 298M183.2 298H200.4M183.2 298L203.4 305M200.4 298L180.6 305M180.6 305H203.4M180.6 305L206.9 313M203.4 305L177.7 313M177.7 313H206.9M177.7 313L210.8 322M206.9 313L174.4 322M174.4 322H210.8" stroke="#3f4b73" stroke-width=".7"/></g><path d="M191.3 263.6V277" stroke="#3b4a78" stroke-width="1.3"/><path d="M190 269.5l2.6 0 .7 6.5h-4z" fill="#dfe5f2" stroke="#3b4a78" stroke-width=".5"/><rect x="186.6" y="276" width="9.6" height="6.6" rx=".8" fill="#1f3d7d"/><path d="M188.8 278.6h5.2l-.6 2.4h-4z" fill="#e4e9f4"/><ellipse cx="191.3" cy="266.6" rx="1.6" ry="2.1" fill="#1f3864"/><circle cx="191.3" cy="266.4" r=".6" fill="#c8d3ea"/><g fill="none" stroke="#1f3864" stroke-width="1.6" stroke-linecap="round"><path d="M188.0 262.3Q184.2 266.2 188.0 270.2"/><path d="M194.6 262.3Q198.4 266.2 194.6 270.2"/><path d="M182.3 260.6Q177.1 265.9 182.3 271.2"/><path d="M200.3 260.6Q205.5 265.9 200.3 271.2"/><path d="M176.3 259.4Q170.3 265.9 176.3 272.4"/><path d="M206.3 259.4Q212.3 265.9 206.3 272.4"/></g></g>
<g id="fire-sensors"><path d="M55.5 410 H106 L93.6 434.6 Q91 440.1 85 440.1 H76.6 Q70.6 440.1 68 434.6Z" fill="#dcdde1"/><rect x="48" y="405.1" width="65.8" height="9.6" rx="4.8" fill="#dcdde1"/><g fill="#3b414a"><polygon points="62.7,415.1 73.4,415.1 73.4,424.9 68.4,424.9"/><rect x="77.2" y="415.1" width="7.3" height="9.8"/><polygon points="88.4,415.1 98.9,415.1 93.5,424.9 88.4,424.9"/></g><rect x="118.9" y="390.1" width="33.9" height="55.8" rx="11" fill="#dcdde1"/><path d="M136.8 396.8 C139.6 400.2 139.2 403.4 140 405.4 C141.2 404.6 141.8 403.2 142 401.6 C144.6 404.6 145.4 408.6 144.8 411.6 C144 416.6 140.4 420.4 136 420.4 C131.4 420.4 127.6 416.8 127.4 411.8 C127.2 408.8 128.4 406.2 130 404.6 C130.2 406.4 130.8 407.6 132 408.4 C131.6 403.6 133.4 399.4 136.8 396.8Z" fill="#d9565c"/><g fill="#bcbec4"><circle cx="125.2" cy="426.5" r="1"/><circle cx="125.2" cy="430.2" r="1"/><circle cx="125.2" cy="434" r="1"/><circle cx="125.2" cy="437.7" r="1"/><circle cx="129.5" cy="426.5" r="1"/><circle cx="129.5" cy="430.2" r="1"/><circle cx="129.5" cy="434" r="1"/><circle cx="129.5" cy="437.7" r="1"/><circle cx="133.8" cy="426.5" r="1"/><circle cx="133.8" cy="430.2" r="1"/><circle cx="133.8" cy="434" r="1"/><circle cx="133.8" cy="437.7" r="1"/><circle cx="138.1" cy="426.5" r="1"/><circle cx="138.1" cy="430.2" r="1"/><circle cx="138.1" cy="434" r="1"/><circle cx="138.1" cy="437.7" r="1"/><circle cx="142.3" cy="426.5" r="1"/><circle cx="142.3" cy="430.2" r="1"/><circle cx="142.3" cy="434" r="1"/><circle cx="142.3" cy="437.7" r="1"/><circle cx="146.6" cy="426.5" r="1"/><circle cx="146.6" cy="430.2" r="1"/><circle cx="146.6" cy="434" r="1"/><circle cx="146.6" cy="437.7" r="1"/></g><rect x="160.3" y="394.6" width="48.4" height="48.1" fill="#dcdde1" stroke="#e6e7ea" stroke-width=".6"/><rect x="170.1" y="398.8" width="28.7" height="6.9" fill="#e1e2e6" stroke="#cfd0d5" stroke-width=".5"/><circle cx="184.7" cy="418.7" r="8.4" fill="#b0262c"/><circle cx="184.7" cy="418.7" r="7.7" fill="#8f1d22"/><circle cx="184.7" cy="433.1" r="1.9" fill="#2f353e"/><path d="M184 433.5h1.4l.3 5.2h-2z" fill="#2f353e"/><rect x="214.2" y="391" width="39.7" height="55.7" rx="2.2" fill="#f2706c"/><path d="M217.8 415.1V397q0-2.9 2.9-2.9h26.6q2.9 0 2.9 2.9v18.1z" fill="#d93c3c"/><path d="M217.8 415.1h32.4v14.2q0 2.5-2.5 2.5h-27.4q-2.5 0-2.5-2.5z" fill="#ffffff"/><path d="M217.8 415.1h32.4v14.2q0 2.5-2.5 2.5h-27.4q-2.5 0-2.5-2.5z" fill="url(#mesh)"/><circle cx="234.1" cy="408.6" r="9.5" fill="#c92f2f"/><g stroke="#a61f1f" stroke-width=".6"><path d="M228.1 402.2h12"/><path d="M226.6 403.8h15.0"/><path d="M225.7 405.4h16.8"/><path d="M225.2 407h17.8"/><path d="M225.1 408.6h18"/><path d="M225.2 410.2h17.8"/><path d="M225.7 411.8h16.8"/><path d="M226.6 413.4h15.0"/><path d="M228.1 415h12"/></g><g fill="none" stroke="#fff" stroke-width=".9" stroke-linejoin="round"><path d="M229.4 407.2h2.2l3.2-2.6v8.4l-3.2-2.6h-2.2z"/><path d="M236.4 406.6q1.4 2.2 0 4.4"/><path d="M238 405.2q2.4 3.6 0 7.2"/></g><rect x="223.2" y="434.5" width="27" height="8.2" rx=".8" fill="#e8605c"/><g fill="#8f3a3a"><rect x="220.3" y="434.9" width="1.3" height="1.3"/><rect x="220.3" y="438.1" width="1.3" height="1.3"/><rect x="220.3" y="441.3" width="1.3" height="1.3"/></g></g>
<g id="electric"><rect x="282" y="394.1" width="42.8" height="50.8" rx="4" fill="#dcdde1"/><rect x="281" y="406.4" width="44.6" height="24.8" rx="1" fill="#e6e7eb"/><rect x="283.7" y="407.1" width="41.1" height="22.7" fill="#3b414a"/><rect x="291.7" y="409.7" width="24.5" height="8.7" fill="#5fa11f"/><g fill="#3b414a"><rect x="288.1" y="398.1" width="6.4" height="3.2" rx="1.1"/><rect x="299.9" y="398.1" width="6.4" height="3.2" rx="1.1"/><rect x="311.5" y="398.1" width="6.4" height="3.2" rx="1.1"/></g><g fill="#e0222a"><circle cx="288.8" cy="424.2" r=".95"/><circle cx="293.5" cy="424.2" r=".95"/><circle cx="298.1" cy="424.2" r=".95"/><circle cx="302.7" cy="424.2" r=".95"/></g><circle cx="311.8" cy="424.2" r="1.5" fill="#ffe81a"/><circle cx="318.2" cy="424.2" r="1.5" fill="#3d8bf0"/><g fill="#a8aaae"><circle cx="290.4" cy="439.4" r="1.5"/><circle cx="299.1" cy="439.4" r="1.5"/><circle cx="307.8" cy="439.4" r="1.5"/><circle cx="316.5" cy="439.4" r="1.5"/></g><path d="M341 439.9 Q339.6 439.9 340.4 438.6 L350 430.6 H375.8 L385.4 438.6 Q386.2 439.9 384.8 439.9Z" fill="#3b414a"/><circle cx="362.9" cy="417.8" r="15.05" fill="none" stroke="#3b414a" stroke-width="7.3"/></g>
<g id="water"><rect x="422" y="388.1" width="8.3" height="3.6" rx=".8" fill="#9d2831"/><path d="M415.4 398.2 Q415.2 391.2 426.2 391.2 Q437.2 391.2 437 398.2Z" fill="url(#hyd)"/><rect x="414.6" y="395.6" width="23.2" height="2.6" rx="1.2" fill="#b5343f"/><rect x="418.2" y="397.2" width="15.9" height="28" fill="url(#hyd)"/><g fill="#a82c36"><rect x="410" y="399" width="8.6" height="7.6" rx="1.2"/><rect x="433.8" y="399" width="8.8" height="7.6" rx="1.2"/></g><g fill="#c13a44"><rect x="411.6" y="398.2" width="1.6" height="9.2" rx=".6"/><rect x="414.6" y="397.8" width="1.8" height="10" rx=".6"/><rect x="436.2" y="397.8" width="1.8" height="10" rx=".6"/><rect x="439.4" y="398.2" width="1.6" height="9.2" rx=".6"/></g><rect x="420.5" y="403.2" width="11.7" height="12.9" fill="#b83843" stroke="#d0606a" stroke-width=".5"/><g fill="#7e2029"><circle cx="422.2" cy="405" r=".6"/><circle cx="430.5" cy="405" r=".6"/><circle cx="422.2" cy="414.2" r=".6"/><circle cx="430.5" cy="414.2" r=".6"/></g><rect x="414.9" y="423.7" width="22.3" height="4.8" rx="2.2" fill="url(#hyd)"/><rect x="419.4" y="428.3" width="13.2" height="7" fill="#3a3f47"/><path d="M414.9 435.1 H437.2 Q437.4 445.2 426 445.2 Q414.7 445.2 414.9 435.1Z" fill="#1f2226"/><rect x="422.8" y="444" width="6.8" height="3.6" fill="#1f2226"/><rect x="417.4" y="446.6" width="18.2" height="4.5" rx=".8" fill="#23262a"/><rect x="425" y="416.6" width="2.8" height="18.8" fill="#b9bcc2"/><rect x="424.2" y="416" width="4.4" height="1.8" fill="#d5d7db"/><path d="M507.1 387.3V408" stroke="#4a4f55" stroke-width=".9"/><path d="M506.3 400h1.6l1.4 8.6h-4.4z" fill="#3f444a"/><rect x="503.8" y="408.6" width="6.8" height="2" rx=".5" fill="#3f444a"/><rect x="498" y="409" width="8" height="1.6" fill="#4a4f55"/><rect x="448.2" y="406.3" width="11" height="6.9" rx="1.2" fill="#5e6369"/><rect x="489" y="406.3" width="5.6" height="6.9" fill="#9a9ea4"/><rect x="494" y="406.3" width="6.2" height="6.9" rx="1" fill="#6a6f75"/><path d="M458.4 432V406.4q0-3.2 3.2-3.2h25q3.2 0 3.2 3.2V432z" fill="#e2e3e6"/><path d="M466.7 435h14.5v6.5q0 1.2-1.2 1.2h-12.1q-1.2 0-1.2-1.2z" fill="#c9ccd1"/><rect x="468.6" y="442.4" width="10.6" height="6" rx="1" fill="#a6aab0"/><path d="M468.6 444.4h10.6M468.6 446.4h10.6" stroke="#8e9298" stroke-width=".5"/><rect x="472.5" y="444.6" width="2.9" height="10.2" fill="#2e3238"/><circle cx="473.9" cy="421.1" r="15.6" fill="#3f444c"/><circle cx="473.9" cy="421.1" r="11.6" fill="#4d535b"/><rect x="469" y="418.1" width="11.1" height="6.8" rx=".5" fill="#5fa11f"/></g>
<g id="occupancy"><path d="M534.9 407 L539.2 437.6 Q540 445 561.4 445 Q582.8 445 583.6 437.6 L588 407Z" fill="url(#bkt)"/><g fill="#c4c5c9"><polygon points="538.4,411 540.2,411 543.2,441 541.6,440.4"/><polygon points="548,412 550.4,412 551.4,443.6 549.4,443.4"/><polygon points="560,412.4 562.6,412.4 562.6,444.8 560.2,444.8"/><polygon points="571.8,412 574.4,412 573.2,443.6 571,443.8"/><polygon points="582.4,411 584.4,411 581.4,440.4 579.6,441"/></g><path d="M532.9 403.5 v3.6 a28.5 7.9 0 0 0 57 0 v-3.6z" fill="#d9dadd"/><ellipse cx="561.4" cy="403.5" rx="28.5" ry="7.9" fill="#dcdde0"/><ellipse cx="561.4" cy="403.3" rx="27" ry="7" fill="#cdced1"/><g fill="#d8d9dc"><ellipse cx="551" cy="403.6" rx="2.4" ry="1.1"/><ellipse cx="572.4" cy="403.6" rx="2.4" ry="1.1"/><ellipse cx="553" cy="399" rx="2" ry=".8"/><ellipse cx="569.6" cy="399" rx="2" ry=".8"/></g><path d="M600 423.6 C600 410 616 403.2 631 403.2 C646 403.2 657 412 657 424.4 C657 434 646 441.9 629 441.9 C612 441.9 600 434 600 423.6Z" fill="url(#dome)"/><ellipse cx="631.5" cy="414" rx="22" ry="10.4" fill="#dee1e7"/><g fill="#5f6b78"><ellipse cx="610.2" cy="427.5" rx="2.7" ry="4.5" transform="rotate(12 610.2 427.5)"/><ellipse cx="632.7" cy="430.8" rx="2.4" ry="4.5"/><ellipse cx="652.2" cy="422.6" rx="2.3" ry="4" transform="rotate(-22 652.2 422.6)"/></g></g>
<g id="safety"><rect x="683.1" y="396.9" width="25.8" height="47.6" rx="4.6" fill="#dcdde1"/><ellipse cx="696.3" cy="406.7" rx="4.5" ry="3.8" fill="#eeeff2"/><rect x="695" y="424.9" width="1.7" height="1.7" rx=".4" fill="#e05560"/><rect x="695" y="427.9" width="1.7" height="1.7" rx=".4" fill="#f0a030"/><rect x="695" y="430.9" width="1.7" height="1.7" rx=".4" fill="#3dc13d"/><rect x="710.7" y="404" width="7.1" height="32.3" rx="3.2" fill="#dcdde1"/><path d="M748.6 396 C754 396 758 400.5 760.6 405.5 L771.6 428 C775 435.5 772 443.4 762 443.4 H735.2 C725.2 443.4 722.2 435.5 725.6 428 L736.6 405.5 C739.2 400.5 743.2 396 748.6 396Z" fill="#dcdde1"/><circle cx="748.6" cy="424.2" r="15.2" fill="#f0e4e4"/><circle cx="748.6" cy="424.2" r="14.6" fill="#dc2020"/><g fill="none" stroke="#f3b4b4" stroke-width=".5"><path transform="translate(748.5 425.2) scale(0.860 1.100)" d="M0 -8.4 C2 -8.4 3.2 -7 4.2 -5.2 L8 1.6 C9.4 4.2 8.2 6.8 5 6.8 H-5 C-8.2 6.8 -9.4 4.2 -8 1.6 L-4.2 -5.2 C-3.2 -7 -2 -8.4 0 -8.4Z" vector-effect="non-scaling-stroke"/><path transform="translate(748.5 425.2) scale(0.688 0.880)" d="M0 -8.4 C2 -8.4 3.2 -7 4.2 -5.2 L8 1.6 C9.4 4.2 8.2 6.8 5 6.8 H-5 C-8.2 6.8 -9.4 4.2 -8 1.6 L-4.2 -5.2 C-3.2 -7 -2 -8.4 0 -8.4Z" vector-effect="non-scaling-stroke"/><path transform="translate(748.5 425.2) scale(0.533 0.682)" d="M0 -8.4 C2 -8.4 3.2 -7 4.2 -5.2 L8 1.6 C9.4 4.2 8.2 6.8 5 6.8 H-5 C-8.2 6.8 -9.4 4.2 -8 1.6 L-4.2 -5.2 C-3.2 -7 -2 -8.4 0 -8.4Z" vector-effect="non-scaling-stroke"/></g><rect x="781.2" y="401" width="40.9" height="40.9" rx="1.2" fill="#dcdde1"/><g fill="#8e9094"><rect x="788.8" y="401" width="25.4" height="3.4"/><rect x="788.8" y="438.6" width="25.4" height="3.3"/><rect x="781.2" y="408.6" width="3.4" height="25.8"/><rect x="818.6" y="408.6" width="3.5" height="25.8"/></g><rect x="784.2" y="404" width="34.6" height="34.6" rx="1.6" fill="#3b424a"/></g>
<g id="firepanel"><rect x="852.4" y="394.7" width="38.2" height="48.7" fill="#dcdde1"/><rect x="865.3" y="397.7" width="12.4" height="12.2" rx="1" fill="#e9eaed" stroke="#d2d3d7" stroke-width=".4"/><path d="M871.4 399.6 C872.4 400.3 873.4 400.5 874.3 400.5 C874.4 403.6 873.4 405.8 871.4 407 C869.4 405.8 868.4 403.6 868.5 400.5 C869.4 400.5 870.4 400.3 871.4 399.6Z" fill="#e01822"/><path d="M871.1 401.4h.7l-.1 3h-.5z" fill="#fff"/><circle cx="871.4" cy="405.3" r=".4" fill="#fff"/><path d="M867.6 406.4l1.2 1.4M875.2 406.4l-1.2 1.4" stroke="#c9cacf" stroke-width=".5"/><rect x="861" y="414.6" width="21" height="8.3" rx=".6" fill="#3b424a"/><rect x="866" y="414.9" width="11" height="7.6" fill="#5fa11f"/><g fill="#656c75"><rect x="862.4" y="416" width="2.2" height="1.2"/><rect x="862.4" y="418.2" width="2.2" height="1.2"/><rect x="862.4" y="420.4" width="2.2" height="1.2"/><rect x="878.4" y="416" width="2.2" height="1.2"/><rect x="878.4" y="418.2" width="2.2" height="1.2"/><rect x="878.4" y="420.4" width="2.2" height="1.2"/></g><rect x="861" y="424" width="21" height="13.4" rx=".6" fill="#e7e8eb"/><g fill="#9a9ca1"><rect x="864.2" y="426.9" width="1.2" height="1.2"/><rect x="864.2" y="429.6" width="1.2" height="1.2"/><rect x="864.2" y="432.3" width="1.2" height="1.2"/><rect x="864.2" y="435.1" width="1.2" height="1.2"/><rect x="867.6" y="426.9" width="1.2" height="1.2"/><rect x="867.6" y="429.6" width="1.2" height="1.2"/><rect x="867.6" y="432.3" width="1.2" height="1.2"/><rect x="867.6" y="435.1" width="1.2" height="1.2"/><rect x="870.7" y="426.9" width="1.2" height="1.2"/><rect x="870.7" y="429.6" width="1.2" height="1.2"/><rect x="870.7" y="432.3" width="1.2" height="1.2"/><rect x="870.7" y="435.1" width="1.2" height="1.2"/><rect x="874.1" y="426.9" width="1.2" height="1.2"/><rect x="874.1" y="429.6" width="1.2" height="1.2"/><rect x="874.1" y="432.3" width="1.2" height="1.2"/><rect x="874.1" y="435.1" width="1.2" height="1.2"/><rect x="877.4" y="426.9" width="1.2" height="1.2"/><rect x="877.4" y="429.6" width="1.2" height="1.2"/><rect x="877.4" y="432.3" width="1.2" height="1.2"/><rect x="877.4" y="435.1" width="1.2" height="1.2"/></g><path d="M866.6 425.3h9.6" stroke="#b5b7bb" stroke-width=".5" stroke-dasharray="1 1.6"/></g>
<g id="cameras"><path d="M922.5 425.5 A20.5 17 0 0 0 963.5 425.5Z" fill="#1b1d21"/><path d="M925.6 428 A18 14.5 0 0 0 931 438.6 A22 16 0 0 1 928.4 427.6Z" fill="#5a5f66" opacity=".7"/><path d="M960.2 428 A18 14.5 0 0 1 954.8 438.6 A22 16 0 0 0 957.4 427.6Z" fill="#5a5f66" opacity=".7"/><path d="M918.2 410.5 C918.6 404 931 401.2 943 401.2 C955 401.2 967.4 404 967.8 410.5 L965 422.6 C961 428 925 428 921 422.6Z" fill="url(#camH)"/><path d="M921.5 407.2 C928 402.6 958 402.6 964.5 407.2" fill="none" stroke="#f1f1f2" stroke-width="1.2" opacity=".7"/><path d="M921 421 C928 427.4 958 427.4 965 421 L964.2 424.4 C958 430.4 928 430.4 921.8 424.4Z" fill="#f3f3f3"/><path d="M922.2 425 C930 430.6 956 430.6 963.8 425" fill="none" stroke="#55595f" stroke-width=".8"/><circle cx="942.9" cy="432.3" r="5" fill="#2c3036"/><circle cx="942.9" cy="432.3" r="4.3" fill="#8fd0f6"/><circle cx="942.9" cy="432.3" r="3.5" fill="url(#lens)"/><ellipse cx="941.8" cy="430.9" rx="1.3" ry=".8" fill="#d8f0ff" opacity=".8"/><path d="M993.4 394.4 C997 391.4 1004 390.6 1009 391.6 C1019 393.8 1028 398.8 1034 404.2 L1034 422.6 C1030 414 1022 406 1013 401.6 C1009 399.6 1005 398.4 1003.6 398.2 L994 398Z" fill="#e3e3e3"/><path d="M1003.6 398.2 C1013 400.6 1025 409 1034 422.6 L1034 417 C1026 405.6 1015 398.6 1005.6 396.4Z" fill="#b3b4b6"/><rect x="994.5" y="396.4" width="9.9" height="6" rx="1.4" fill="#e0e0e1"/><path d="M985.1 430.6 A15.2 13.6 0 0 0 1015.5 430.6Z" fill="#1b1d21"/><path d="M987.6 432.6 A13 11 0 0 0 991.6 440.8 A17 12 0 0 1 989.8 432.4Z" fill="#5a5f66" opacity=".7"/><path d="M1013 432.6 A13 11 0 0 1 1009 440.8 A17 12 0 0 0 1010.8 432.4Z" fill="#5a5f66" opacity=".7"/><path d="M983.6 405 Q984 402.4 987 402.4 H1013.6 Q1016.4 402.4 1016.9 405 L1021.4 424.4 H979.4Z" fill="url(#camP)"/><path d="M979.4 424 H1021.4 L1020.2 428.6 C1012 434 989 434 981 428.6Z" fill="#ededee"/><path d="M980 426.6 C990 430.6 1011 430.6 1020.8 426.6" fill="none" stroke="#cfd0d2" stroke-width=".7"/><path d="M985 431 C992 434.6 1008.6 434.6 1015.6 431" fill="none" stroke="#55595f" stroke-width=".7"/><circle cx="1000.3" cy="436.8" r="4.3" fill="#2c3036"/><circle cx="1000.3" cy="436.8" r="3.7" fill="#8fd0f6"/><circle cx="1000.3" cy="436.8" r="3" fill="url(#lens)"/><ellipse cx="999.4" cy="435.7" rx="1.1" ry=".7" fill="#d8f0ff" opacity=".8"/></g>
<g id="labels" text-anchor="middle" fill="#4c4c4c" font-size="13.33">
<text x="124.4" y="137.47">用户App</text>
<text x="229.3" y="137.47">管理App</text>
<text x="366.2" y="233.87">防火墙</text>
<text x="473.2" y="233.87">交换机</text>
<text x="290.8" y="266.37">云服务器群</text>
<text x="739.8" y="129.37">拼接大屏</text>
<text x="892.8" y="129.37">管理客户端</text>
<text x="670" y="183.97">流媒体服务器</text>
<text x="828" y="184.07">AI服务器</text>
<text x="959.9" y="181.77">存储服务器</text>
<text x="675.8" y="269.27">报警服务器</text>
<text x="824.9" y="269.77">Web服务器</text>
<text x="958.1" y="267.77">管理服务器</text>
<text x="534.7" y="350.88" font-size="13.9">LoRa/TurMass</text>
<text x="534.6" y="366.47">室外基站</text>
<text x="757.6" y="349.08" font-size="13.9">LoRa/TurMass</text>
<text x="757.4" y="364.87">室内基站</text>
<text x="191.5" y="360.17">NB-IoT/4G/5G基站</text>
<text x="304" y="301.01" font-size="21.33" fill="#565656">外网</text>
<text x="446.8" y="300.61" font-size="21.33" fill="#565656">内网</text>
<text x="157" y="204.12" font-size="24" fill="#5a5c5e">Internet/公有云</text>
<text x="150.8" y="484.08" font-size="16">烟温、可燃气体感知探测报警</text>
<text x="328.1" y="484.08" font-size="16">用电安全监测</text>
<text x="460.2" y="484.08" font-size="16">消防用水监测</text>
<text x="596.4" y="484.08" font-size="16">消防通道占用监测</text>
<text x="752.3" y="484.08" font-size="16">泛安全感知终端</text>
<text x="871.5" y="484.08" font-size="16">传统消防接入</text>
<text x="981.2" y="484.08" font-size="16">视频侦测和联动</text>
</g>
</svg>
<div id="textlayer">
<span class="b" style="left:518.0px;top:296.8px;width:32.0px;height:13.2px;font-size:13.2px">LoRa</span>
<span class="b" style="left:731.5px;top:293.6px;width:31.6px;height:13.0px;font-size:13px">LoRa</span>
<span style="left:98.7px;top:125.7px;width:51.4px;height:13.3px;font-size:13.33px">用户App</span>
<span style="left:203.6px;top:125.7px;width:51.4px;height:13.3px;font-size:13.33px">管理App</span>
<span style="left:346.2px;top:222.1px;width:40.0px;height:13.3px;font-size:13.33px">防火墙</span>
<span style="left:453.2px;top:222.1px;width:40.0px;height:13.3px;font-size:13.33px">交换机</span>
<span style="left:257.5px;top:254.6px;width:66.7px;height:13.3px;font-size:13.33px">云服务器群</span>
<span style="left:713.1px;top:117.6px;width:53.3px;height:13.3px;font-size:13.33px">拼接大屏</span>
<span style="left:859.5px;top:117.6px;width:66.7px;height:13.3px;font-size:13.33px">管理客户端</span>
<span style="left:630.0px;top:172.2px;width:80.0px;height:13.3px;font-size:13.33px">流媒体服务器</span>
<span style="left:802.0px;top:172.3px;width:52.0px;height:13.3px;font-size:13.33px">AI服务器</span>
<span style="left:926.6px;top:170.0px;width:66.7px;height:13.3px;font-size:13.33px">存储服务器</span>
<span style="left:642.5px;top:257.5px;width:66.7px;height:13.3px;font-size:13.33px">报警服务器</span>
<span style="left:791.2px;top:258.0px;width:67.3px;height:13.3px;font-size:13.33px">Web服务器</span>
<span style="left:924.8px;top:256.0px;width:66.7px;height:13.3px;font-size:13.33px">管理服务器</span>
<span style="left:489.8px;top:338.7px;width:89.8px;height:13.9px;font-size:13.9px">LoRa/TurMass</span>
<span style="left:507.9px;top:354.7px;width:53.3px;height:13.3px;font-size:13.33px">室外基站</span>
<span style="left:712.7px;top:336.9px;width:89.8px;height:13.9px;font-size:13.9px">LoRa/TurMass</span>
<span style="left:730.7px;top:353.1px;width:53.3px;height:13.3px;font-size:13.33px">室内基站</span>
<span style="left:132.8px;top:348.4px;width:117.5px;height:13.3px;font-size:13.33px">NB-IoT/4G/5G基站</span>
<span style="left:282.7px;top:282.2px;width:42.7px;height:21.3px;font-size:21.33px">外网</span>
<span style="left:425.5px;top:281.8px;width:42.7px;height:21.3px;font-size:21.33px">内网</span>
<span style="left:71.5px;top:183.0px;width:171.0px;height:24.0px;font-size:24px">Internet/公有云</span>
<span style="left:46.8px;top:470.0px;width:208.0px;height:16.0px;font-size:16px">烟温、可燃气体感知探测报警</span>
<span style="left:280.1px;top:470.0px;width:96.0px;height:16.0px;font-size:16px">用电安全监测</span>
<span style="left:412.2px;top:470.0px;width:96.0px;height:16.0px;font-size:16px">消防用水监测</span>
<span style="left:532.4px;top:470.0px;width:128.0px;height:16.0px;font-size:16px">消防通道占用监测</span>
<span style="left:696.3px;top:470.0px;width:112.0px;height:16.0px;font-size:16px">泛安全感知终端</span>
<span style="left:823.5px;top:470.0px;width:96.0px;height:16.0px;font-size:16px">传统消防接入</span>
<span style="left:925.2px;top:470.0px;width:112.0px;height:16.0px;font-size:16px">视频侦测和联动</span>
</div>
</div>
</body>
</html>
